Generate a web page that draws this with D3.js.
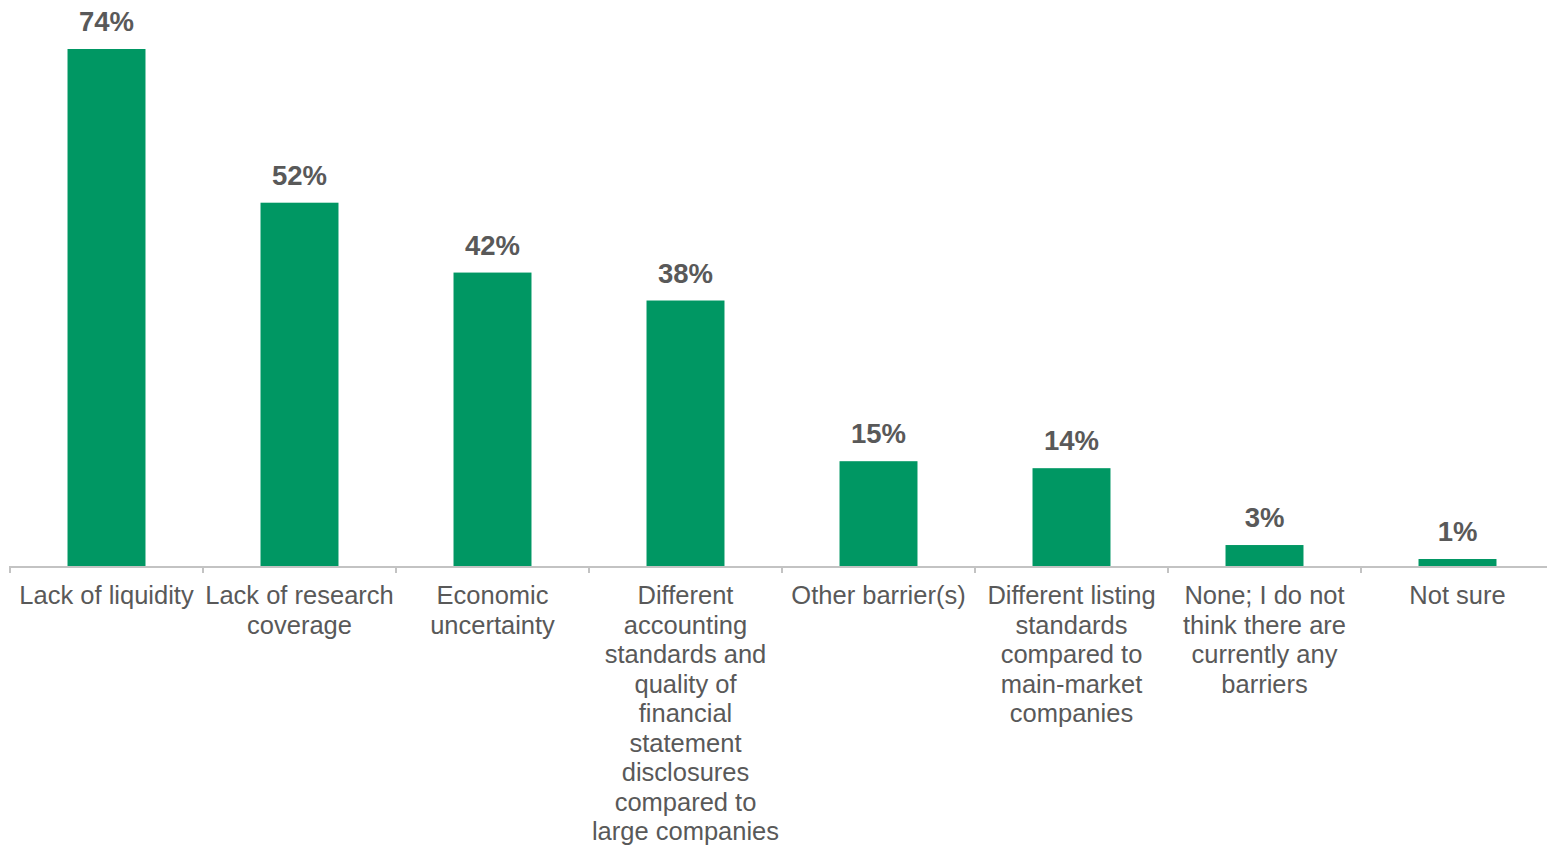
<!DOCTYPE html>
<html>
<head>
<meta charset="utf-8">
<script src="https://cdn.jsdelivr.net/npm/d3@7"></script>
<style>
  html, body { margin: 0; padding: 0; background: #fff; }
  svg { display: block; }
</style>
</head>
<body>
<svg id="chart" width="1547" height="845"></svg>
<script>
// Barriers to investing — share of respondents
const categories = [
  "Lack of liquidity",
  "Lack of research coverage",
  "Economic uncertainty",
  "Different accounting standards and quality of financial statement disclosures compared to large companies",
  "Other barrier(s)",
  "Different listing standards compared to main-market companies",
  "None; I do not think there are currently any barriers",
  "Not sure"
];
const values = [74, 52, 42, 38, 15, 14, 3, 1];
const valueLabels = ["74%", "52%", "42%", "38%", "15%", "14%", "3%", "1%"];
const labelLines = [
  ["Lack of liquidity"],
  ["Lack of research", "coverage"],
  ["Economic", "uncertainty"],
  ["Different", "accounting", "standards and", "quality of", "financial", "statement", "disclosures", "compared to", "large companies"],
  ["Other barrier(s)"],
  ["Different listing", "standards", "compared to", "main-market", "companies"],
  ["None; I do not", "think there are", "currently any", "barriers"],
  ["Not sure"]
];

const svg = d3.select("#chart");
const width = 1547;
const baseY = 566;
const topY = 49;
const left = 10;
const step = 193;

const x = d3.scaleBand()
  .domain(categories)
  .range([left, left + step * categories.length])
  .padding(0);

const y = d3.scaleLinear()
  .domain([0, 74])
  .range([baseY, topY]);

const barFrac = 0.404;
const barW = x.bandwidth() * barFrac;

// bars
svg.append("g")
  .selectAll("rect")
  .data(categories)
  .join("rect")
  .attr("x", d => x(d) + (x.bandwidth() - barW) / 2)
  .attr("y", (d, i) => y(values[i]))
  .attr("width", barW)
  .attr("height", (d, i) => y(0) - y(values[i]))
  .attr("fill", "#009763");

// value labels
svg.append("g")
  .selectAll("text")
  .data(categories)
  .join("text")
  .attr("x", d => x(d) + x.bandwidth() / 2)
  .attr("y", (d, i) => y(values[i]) - 18)
  .attr("text-anchor", "middle")
  .attr("font-family", "Liberation Sans, Arial, sans-serif")
  .attr("font-weight", "bold")
  .attr("font-size", 27.5)
  .attr("fill", "#595959")
  .text((d, i) => valueLabels[i]);

// category axis: baseline with ticks at band edges
const axis = svg.append("g").attr("stroke", "#c3c3c3").attr("stroke-width", 2);
axis.append("line")
  .attr("x1", left).attr("x2", width)
  .attr("y1", y(0) + 1).attr("y2", y(0) + 1);
axis.selectAll("line.tick")
  .data(categories)
  .join("line")
  .attr("class", "tick")
  .attr("x1", d => x(d)).attr("x2", d => x(d))
  .attr("y1", y(0)).attr("y2", y(0) + 7);

// category labels
const lab = svg.append("g")
  .selectAll("text")
  .data(categories)
  .join("text")
  .attr("x", d => x(d) + x.bandwidth() / 2)
  .attr("y", y(0) + 38)
  .attr("text-anchor", "middle")
  .attr("font-family", "Liberation Sans, Arial, sans-serif")
  .attr("font-size", 25.5)
  .attr("fill", "#595959");

lab.each(function(d, i) {
  const t = d3.select(this);
  const cx = x(d) + x.bandwidth() / 2;
  labelLines[i].forEach((line, j) => {
    t.append("tspan")
      .attr("x", cx)
      .attr("dy", j === 0 ? 0 : 29.5)
      .text(line);
  });
});
</script>
</body>
</html>
